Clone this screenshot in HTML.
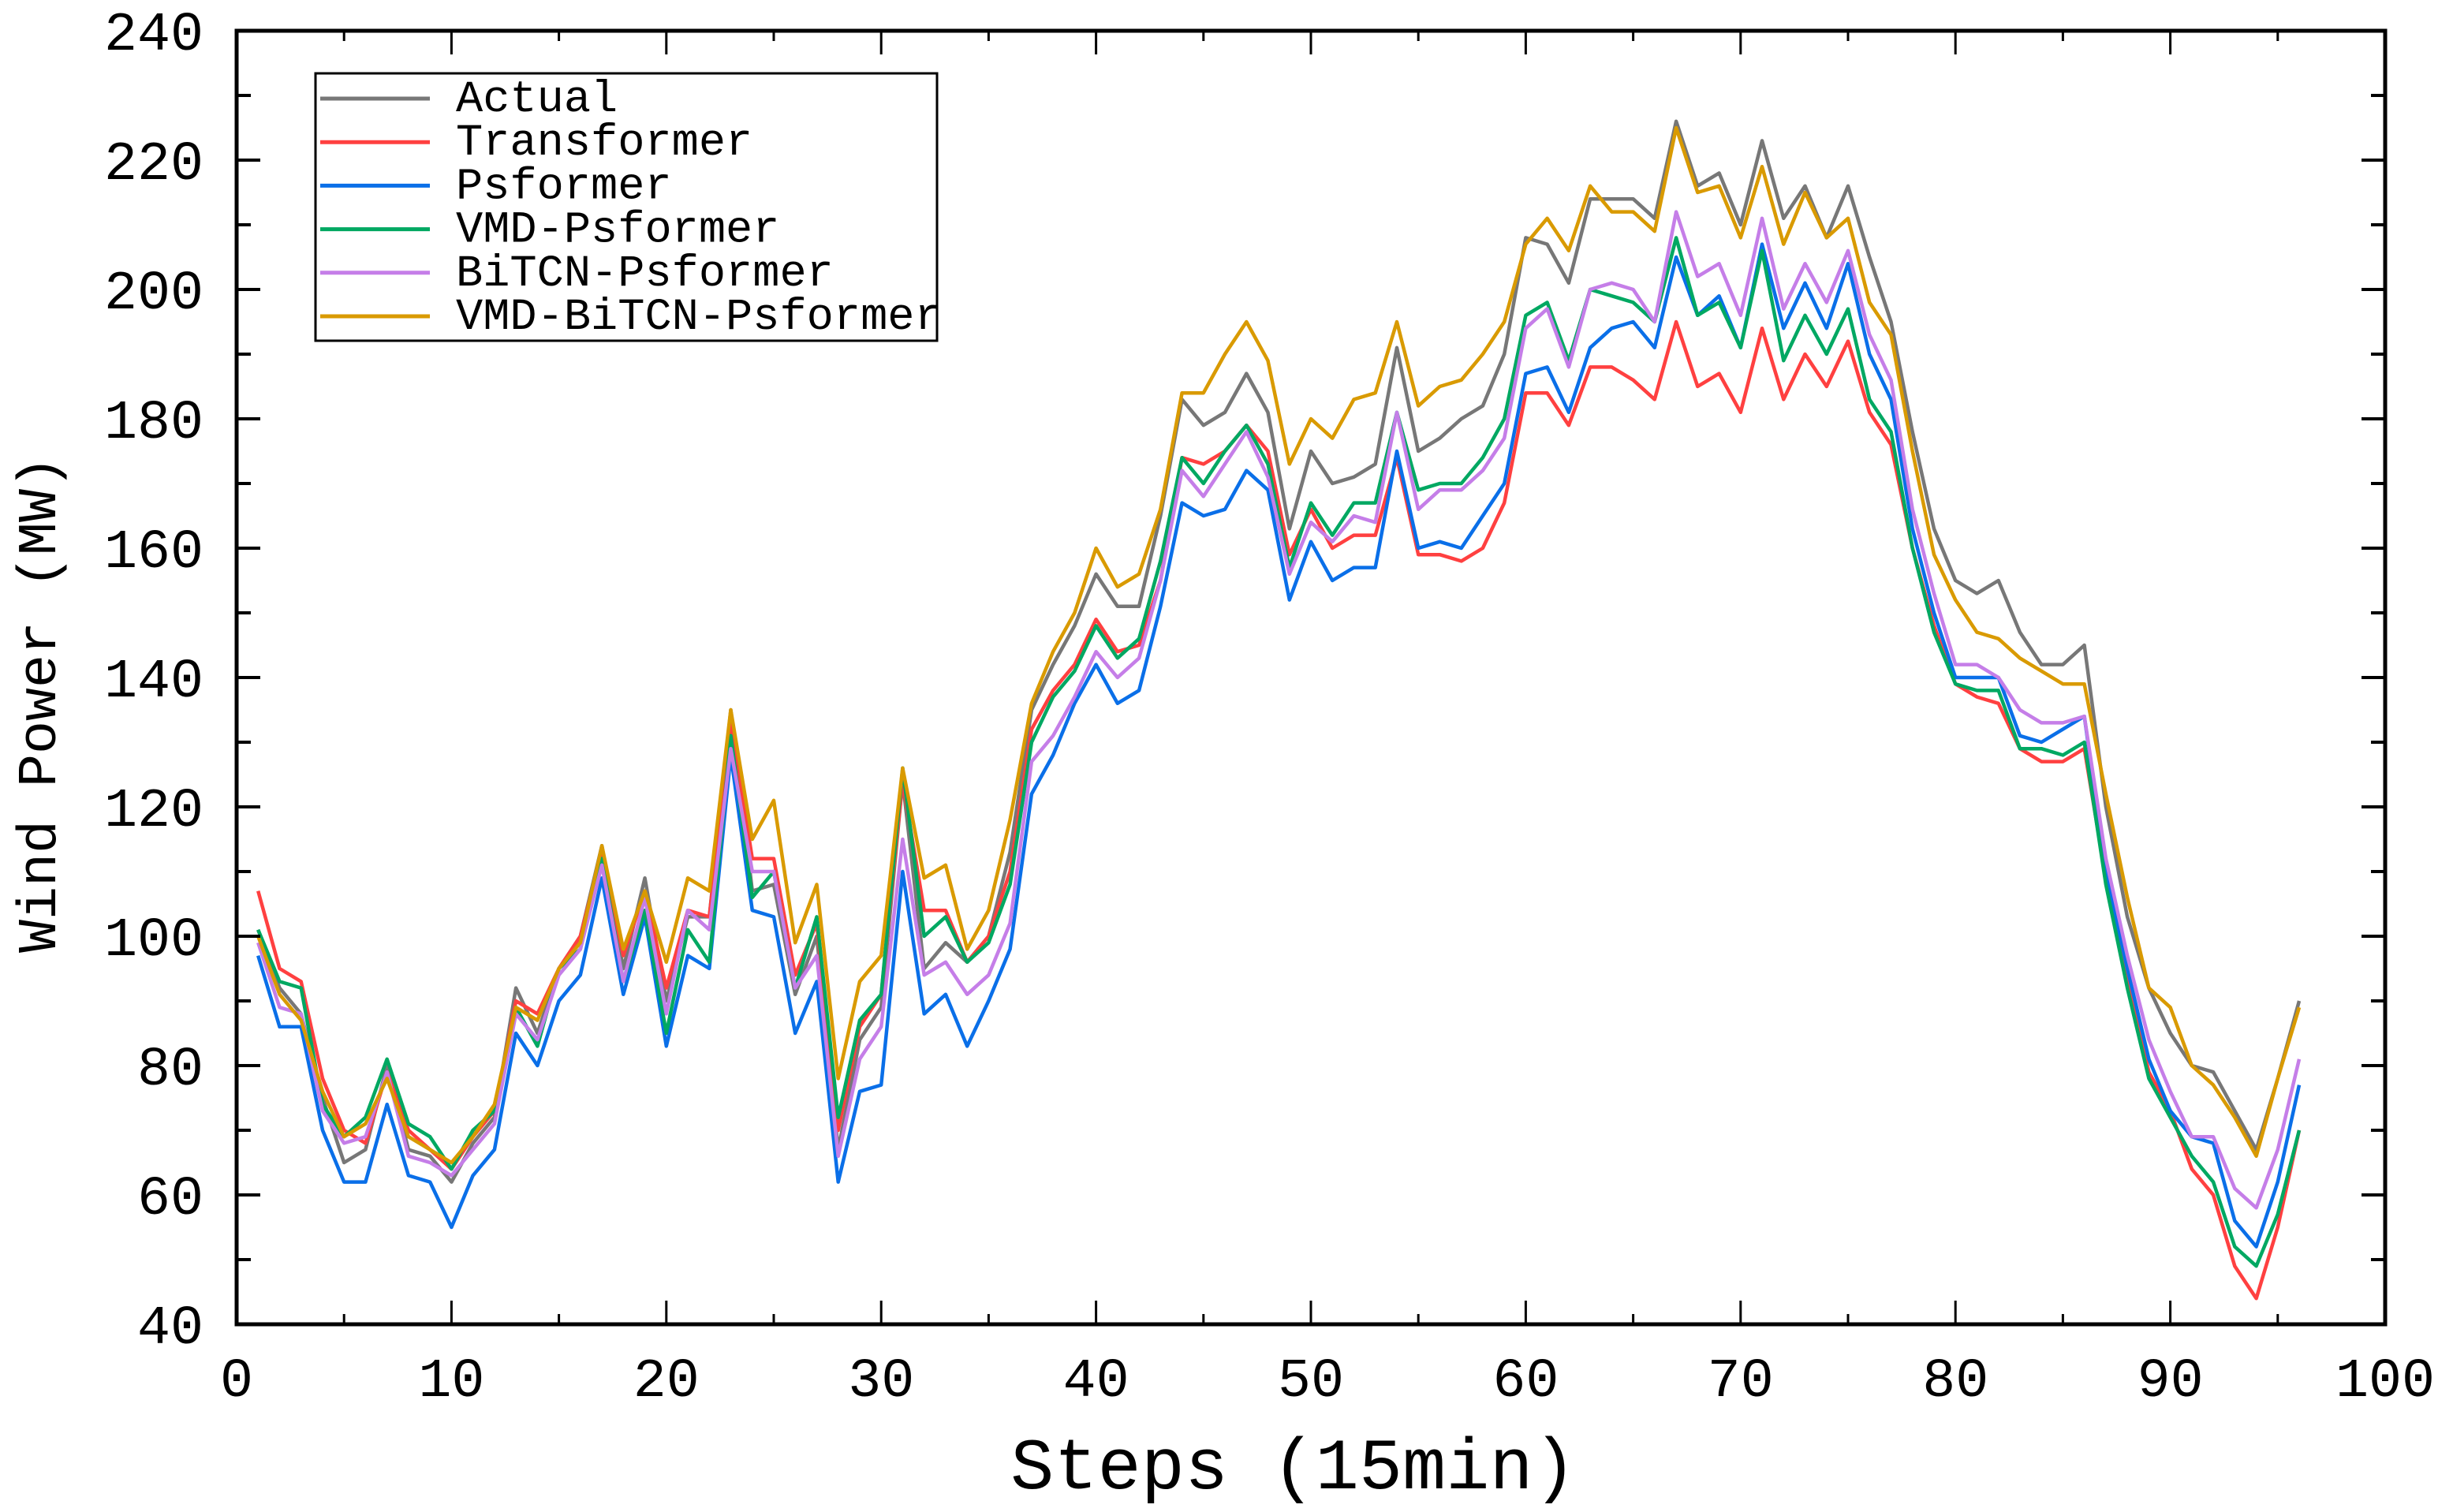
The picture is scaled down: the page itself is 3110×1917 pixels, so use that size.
<!DOCTYPE html>
<html><head><meta charset="utf-8"><style>
html,body{margin:0;padding:0;background:#fff;}
svg{display:block;}
</style></head><body>
<svg id="chart" width="3110" height="1917" viewBox="0 0 3110 1917" xmlns="http://www.w3.org/2000/svg">
<rect width="3110" height="1917" fill="#fff"/>
<g id="series"></g>
<g id="axes"></g>
<g id="legend"></g>
</svg>
<script>
const xTicks = [0,10,20,30,40,50,60,70,80,90,100];
const yTicks = [40,60,80,100,120,140,160,180,200,220,240];
const seriesNames = ["Actual","Transformer","Psformer","VMD-Psformer","BiTCN-Psformer","VMD-BiTCN-Psformer"];
const seriesColors = ["#777777","#ff4040","#0a6fe8","#00a862","#c57ee8","#d99a00"];
const actual = [101,92,88,75,65,67,80,67,66,62,68,72,92,85,95,100,114,95,109,90,103,103,135,107,108,91,100,67,84,89,124,95,99,96,100,113,135,142,148,156,151,151,165,183,179,181,187,181,163,175,170,171,173,191,175,177,180,182,190,208,207,201,214,214,214,211,226,216,218,210,223,211,216,208,216,205,195,178,163,155,153,155,147,142,142,145,120,103,92,85,80,79,73,67,78,90];
const transformer = [107,95,93,78,70,68,79,70,67,64,69,73,90,88,95,100,113,97,107,92,104,103,133,112,112,94,102,70,86,91,124,104,104,96,100,110,132,138,142,149,144,145,155,174,173,175,179,175,159,166,160,162,162,174,159,159,158,160,167,184,184,179,188,188,186,183,195,185,187,181,194,183,190,185,192,181,176,160,148,139,137,136,129,127,127,129,109,93,79,73,64,60,49,44,55,70];
const psformer = [97,86,86,70,62,62,74,63,62,55,63,67,85,80,90,94,109,91,103,83,97,95,128,104,103,85,93,62,76,77,110,88,91,83,90,98,122,128,136,142,136,138,151,167,165,166,172,169,152,161,155,157,157,175,160,161,160,165,170,187,188,181,191,194,195,191,205,196,199,191,207,194,201,194,204,190,183,163,150,140,140,140,131,130,132,134,110,95,81,73,69,68,56,52,62,77];
const vmdPsformer = [101,93,92,74,69,72,81,71,69,64,70,73,89,83,95,98,112,93,104,85,101,96,131,106,110,92,103,72,87,91,126,100,103,96,99,108,130,137,141,148,143,146,158,174,170,175,179,173,157,167,162,167,167,181,169,170,170,174,180,196,198,189,200,199,198,195,208,196,198,191,206,189,196,190,197,183,178,160,147,139,138,138,129,129,128,130,108,92,78,72,66,62,52,49,57,70];
const bitcnPsformer = [99,89,88,73,68,69,79,66,65,63,67,71,88,84,94,98,111,93,106,88,104,101,129,110,110,92,97,66,81,86,115,94,96,91,94,102,127,131,137,144,140,143,155,172,168,173,178,171,156,164,161,165,164,181,166,169,169,172,177,194,197,188,200,201,200,195,212,202,204,196,211,197,204,198,206,193,186,166,153,142,142,140,135,133,133,134,112,97,84,76,69,69,61,58,67,81];
const vmdBitcnPsformer = [100,91,87,76,69,71,78,69,67,65,69,74,89,87,95,99,114,98,107,96,109,107,135,115,121,99,108,78,93,97,126,109,111,98,104,118,136,144,150,160,154,156,166,184,184,190,195,189,173,180,177,183,184,195,182,185,186,190,195,207,211,206,216,212,212,209,225,215,216,208,219,207,215,208,211,198,193,175,159,152,147,146,143,141,139,139,122,106,92,89,80,77,72,66,78,89];
const allSeries = [actual,transformer,psformer,vmdPsformer,bitcnPsformer,vmdBitcnPsformer];

const NS="http://www.w3.org/2000/svg";
const L=300,R=3024,T=39,B=1679;
function xs(v){return L+(v-0)/(100-0)*(R-L);}
function ys(v){return B-(v-40)/(240-40)*(B-T);}
function mk(tag,parent){const e=document.createElementNS(NS,tag);parent.appendChild(e);return e;}
const gS=document.getElementById('series'),gA=document.getElementById('axes'),gL=document.getElementById('legend');

allSeries.forEach((s,k)=>{
  const p=mk('polyline',gS);
  p.setAttribute('points',s.map((v,i)=>xs(i+1).toFixed(1)+','+ys(v).toFixed(1)).join(' '));
  p.setAttribute('fill','none');p.setAttribute('stroke',seriesColors[k]);p.setAttribute('stroke-width','4.5');p.setAttribute('stroke-linejoin','round');
  
  
});

// frame
const fr=mk('rect',gA);
fr.setAttribute('x',L);fr.setAttribute('y',T);fr.setAttribute('width',R-L);fr.setAttribute('height',B-T);
fr.setAttribute('fill','none');fr.setAttribute('stroke','#000');fr.setAttribute('stroke-width','5');



function line(x1,y1,x2,y2,w){const l=mk('line',gA);l.setAttribute('x1',x1);l.setAttribute('y1',y1);l.setAttribute('x2',x2);l.setAttribute('y2',y2);l.setAttribute('stroke','#000');l.setAttribute('stroke-width',w);return l;}
function txt(str,x,y,size,anchor,parent){const t=mk('text',parent||gA);t.textContent=str;t.setAttribute('x',x);t.setAttribute('y',y);t.setAttribute('font-family','"Liberation Mono", monospace');t.setAttribute('font-size',size);t.setAttribute('text-anchor',anchor);t.setAttribute('fill','#000');return t;}

for(let v=0;v<=100;v+=5){
  const major=v%10===0,len=major?30:13,x=xs(v);
  const a=line(x,B,x,B-len,3);
  
  
  const b=line(x,T,x,T+len,3);
  
  
}
xTicks.forEach(v=>{
  const t=txt(String(v),xs(v),1770,70,'middle');
  
  
});
for(let v=40;v<=240;v+=10){
  const major=v%20===0,len=major?30:18,y=ys(v);
  const a=line(L,y,L+len,y,4);
  
  
  const b=line(R,y,R-len,y,4);
  
  
}
yTicks.forEach(v=>{
  const t=txt(String(v),258,ys(v)+24,70,'end');
  
  
});
const xt=txt('Steps (15min)',1640,1887,92,'middle');


const yt=txt('Wind Power (MW)',0,0,70,'middle');
yt.setAttribute('transform','translate(70,893) rotate(-90)');



// legend
const lb=mk('rect',gL);
lb.setAttribute('x',400);lb.setAttribute('y',93);lb.setAttribute('width',788);lb.setAttribute('height',339);
lb.setAttribute('fill','#fff');lb.setAttribute('stroke','#000');lb.setAttribute('stroke-width','3');


seriesNames.forEach((n,k)=>{
  const y=125+k*55.2;
  const l=mk('line',gL);
  l.setAttribute('x1',406);l.setAttribute('x2',545);l.setAttribute('y1',y);l.setAttribute('y2',y);
  l.setAttribute('stroke',seriesColors[k]);l.setAttribute('stroke-width','5');
  
  
  const t=txt(n,578,y+16,57,'start',gL);
  
  
});
</script>
</body></html>
